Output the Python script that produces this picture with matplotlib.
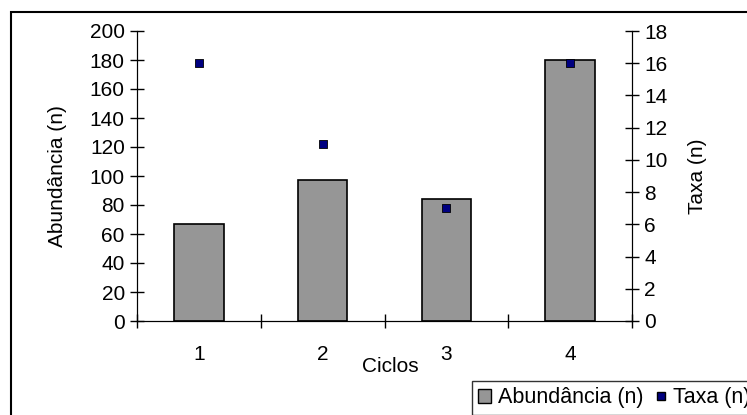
import matplotlib.pyplot as plt
import matplotlib.patches as mpatches
from matplotlib.lines import Line2D
import numpy as np

plt.rcParams['font.family'] = ['Liberation Sans', 'DejaVu Sans']
plt.rcParams['font.size'] = 15

# dados
ciclos = ['1', '2', '3', '4']
abundancia = [67, 97, 84, 180]
taxa = [16, 11, 7, 16]

fig = plt.figure(figsize=(7.47, 4.15), dpi=100)
ax = fig.add_axes([137/747, 1 - 321/415, (632 - 137)/747, (321 - 31)/415])

x = np.arange(len(ciclos))
ax.bar(x, abundancia, width=0.4, color='#969696', edgecolor='black', linewidth=1.2, zorder=2)
ax.set_xlim(-0.5, len(ciclos) - 0.5)
ax.set_ylim(0, 200)
ax.set_yticks(range(0, 201, 20))
ax.set_xticks(x)
ax.set_xticklabels(ciclos)
ax.set_xticks(np.arange(-0.5, len(ciclos)), minor=True)
ax.tick_params(axis='x', which='major', length=0, pad=17)
ax.tick_params(axis='x', which='minor', direction='inout', length=9.5, width=1)
ax.tick_params(axis='y', direction='inout', length=9.5, width=1, pad=4)
ax.spines['top'].set_visible(False)
ax.set_ylabel('Abundância (n)')
ax.yaxis.set_label_coords(-0.142, 0.5)
ax.set_xlabel('Ciclos')
ax.xaxis.set_label_coords(0.511, -0.125)

ax2 = ax.twinx()
ax2.scatter(x, taxa, marker='s', s=36, color='#000080', edgecolor='black', linewidth=0.6, zorder=3)
ax2.set_ylim(0, 18)
ax2.set_yticks(range(0, 19, 2))
ax2.tick_params(axis='y', direction='inout', length=9.5, width=1, pad=4)
ax2.spines['top'].set_visible(False)
ax2.set_ylabel('Taxa (n)', labelpad=15)

# moldura externa
fig.patches.append(mpatches.Rectangle((11/747, -0.05), 1.1, 1 - 12/415 + 0.05,
                                      transform=fig.transFigure, fill=False,
                                      edgecolor='black', linewidth=1.5))

handles = [mpatches.Patch(facecolor='#969696', edgecolor='black', label='Abundância (n)'),
           Line2D([], [], marker='s', linestyle='none', markersize=6, markerfacecolor='#000080',
                  markeredgecolor='black', label='Taxa (n)')]
leg = fig.legend(handles=handles, loc='upper left', bbox_to_anchor=(472/747, 1 - 381/415),
                 ncol=2, frameon=True, fancybox=False, handlelength=0.6, handleheight=0.6,
                 handletextpad=0.3, columnspacing=0.5, borderpad=0.3, borderaxespad=0,
                 fontsize=15.5)
leg.get_frame().set_edgecolor('black')
leg.get_frame().set_linewidth(1)

fig.savefig('out.png', dpi=100)
